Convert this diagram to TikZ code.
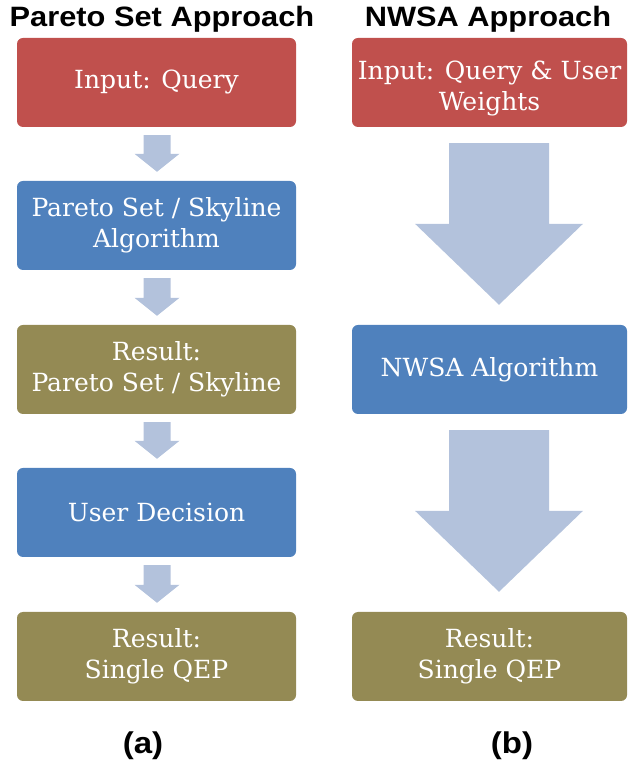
\documentclass[tikz,border=0pt]{standalone}
\usepackage{fontspec}
\usepackage{graphicx}
\setmainfont{DejaVu Serif}
\newfontfamily\titlefont{Liberation Sans}
\usetikzlibrary{calc}
\definecolor{boxred}{RGB}{192,80,77}
\definecolor{boxblue}{RGB}{79,129,189}
\definecolor{boxolive}{RGB}{148,138,84}
\definecolor{arrowblue}{RGB}{179,194,220}
\tikzset{
  flowbox/.style={rounded corners=6pt, minimum height=89pt, inner sep=0pt,
    align=center, text=white, font=\fontsize{25}{31}\selectfont},
  leftbox/.style={flowbox, minimum width=279pt},
  rightbox/.style={flowbox, minimum width=275pt},
  heading/.style={font=\titlefont\bfseries\fontsize{28}{30}\selectfont, anchor=base, inner sep=0pt},
  panellabel/.style={font=\titlefont\bfseries\fontsize{30}{32}\selectfont, inner sep=0pt},
  fatarrowfill/.style={fill=arrowblue}
}
% #1 from node, #2 to node, #3 x shift, #4 top gap, #5 bottom gap,
% #6 shaft half width, #7 head half width, #8 head length
\newcommand\fatarrow[8]{%
  \fill[fatarrowfill] let \p1=(#1.south), \p2=(#2.north),
    \n1={\x1+#3pt}, \n2={\y1-#4pt}, \n3={\y2+#5pt}, \n4={\n3+#8} in
    (\n1-#6,\n2) -- (\n1+#6,\n2) -- (\n1+#6,\n4) -- (\n1+#7,\n4)
    -- (\n1,\n3) -- (\n1-#7,\n4) -- (\n1-#6,\n4) -- cycle;
}
\begin{document}
\begin{tikzpicture}[x=1pt, y=1pt]
  \useasboundingbox (0,0) rectangle (628,765);
  % headings
  \node[heading] (t1) at (162,738) {\scalebox{1.1}[1]{Pareto Set Approach}};
  \node[heading] (t2) at (488,738) {\scalebox{1.1}[1]{NWSA Approach}};
  % left column
  \node[leftbox, fill=boxred]   (l1) at (156.5,682.5) {Input: Query};
  \node[leftbox, fill=boxblue]  (l2) at (156.5,539.5) {Pareto Set / Skyline\\Algorithm};
  \node[leftbox, fill=boxolive] (l3) at (156.5,395.5) {Result:\\Pareto Set / Skyline};
  \node[leftbox, fill=boxblue]  (l4) at (156.5,252.5) {User Decision};
  \node[leftbox, fill=boxolive] (l5) at (156.5,108.5) {Result:\\Single QEP};
  % right column
  \node[rightbox, fill=boxred]   (r1) at (489.5,682.5) {\rule{0pt}{30pt}Input: Query \& User\\Weights};
  \node[rightbox, fill=boxblue]  (r2) at (489.5,395.5) {NWSA Algorithm};
  \node[rightbox, fill=boxolive] (r3) at (489.5,108.5) {Result:\\Single QEP};
  % arrows
  \fatarrow{l1}{l2}{0.5}{8}{9}{13.5}{22.5}{18}
  \fatarrow{l2}{l3}{0.5}{8}{9}{13.5}{22.5}{18}
  \fatarrow{l3}{l4}{0.5}{8}{9}{13.5}{22.5}{18}
  \fatarrow{l4}{l5}{0.5}{8}{9}{13.5}{22.5}{18}
  \fatarrow{r1}{r2}{9.5}{16}{20}{50}{84}{81}
  \fatarrow{r2}{r3}{9.5}{16}{20}{50}{84}{81}
  % panel labels
  \node[panellabel] (la) at (143,19) {\scalebox{1.1}[1]{(a)}};
  \node[panellabel] (lb) at (512,19) {\scalebox{1.1}[1]{(b)}};
\end{tikzpicture}
\end{document}
